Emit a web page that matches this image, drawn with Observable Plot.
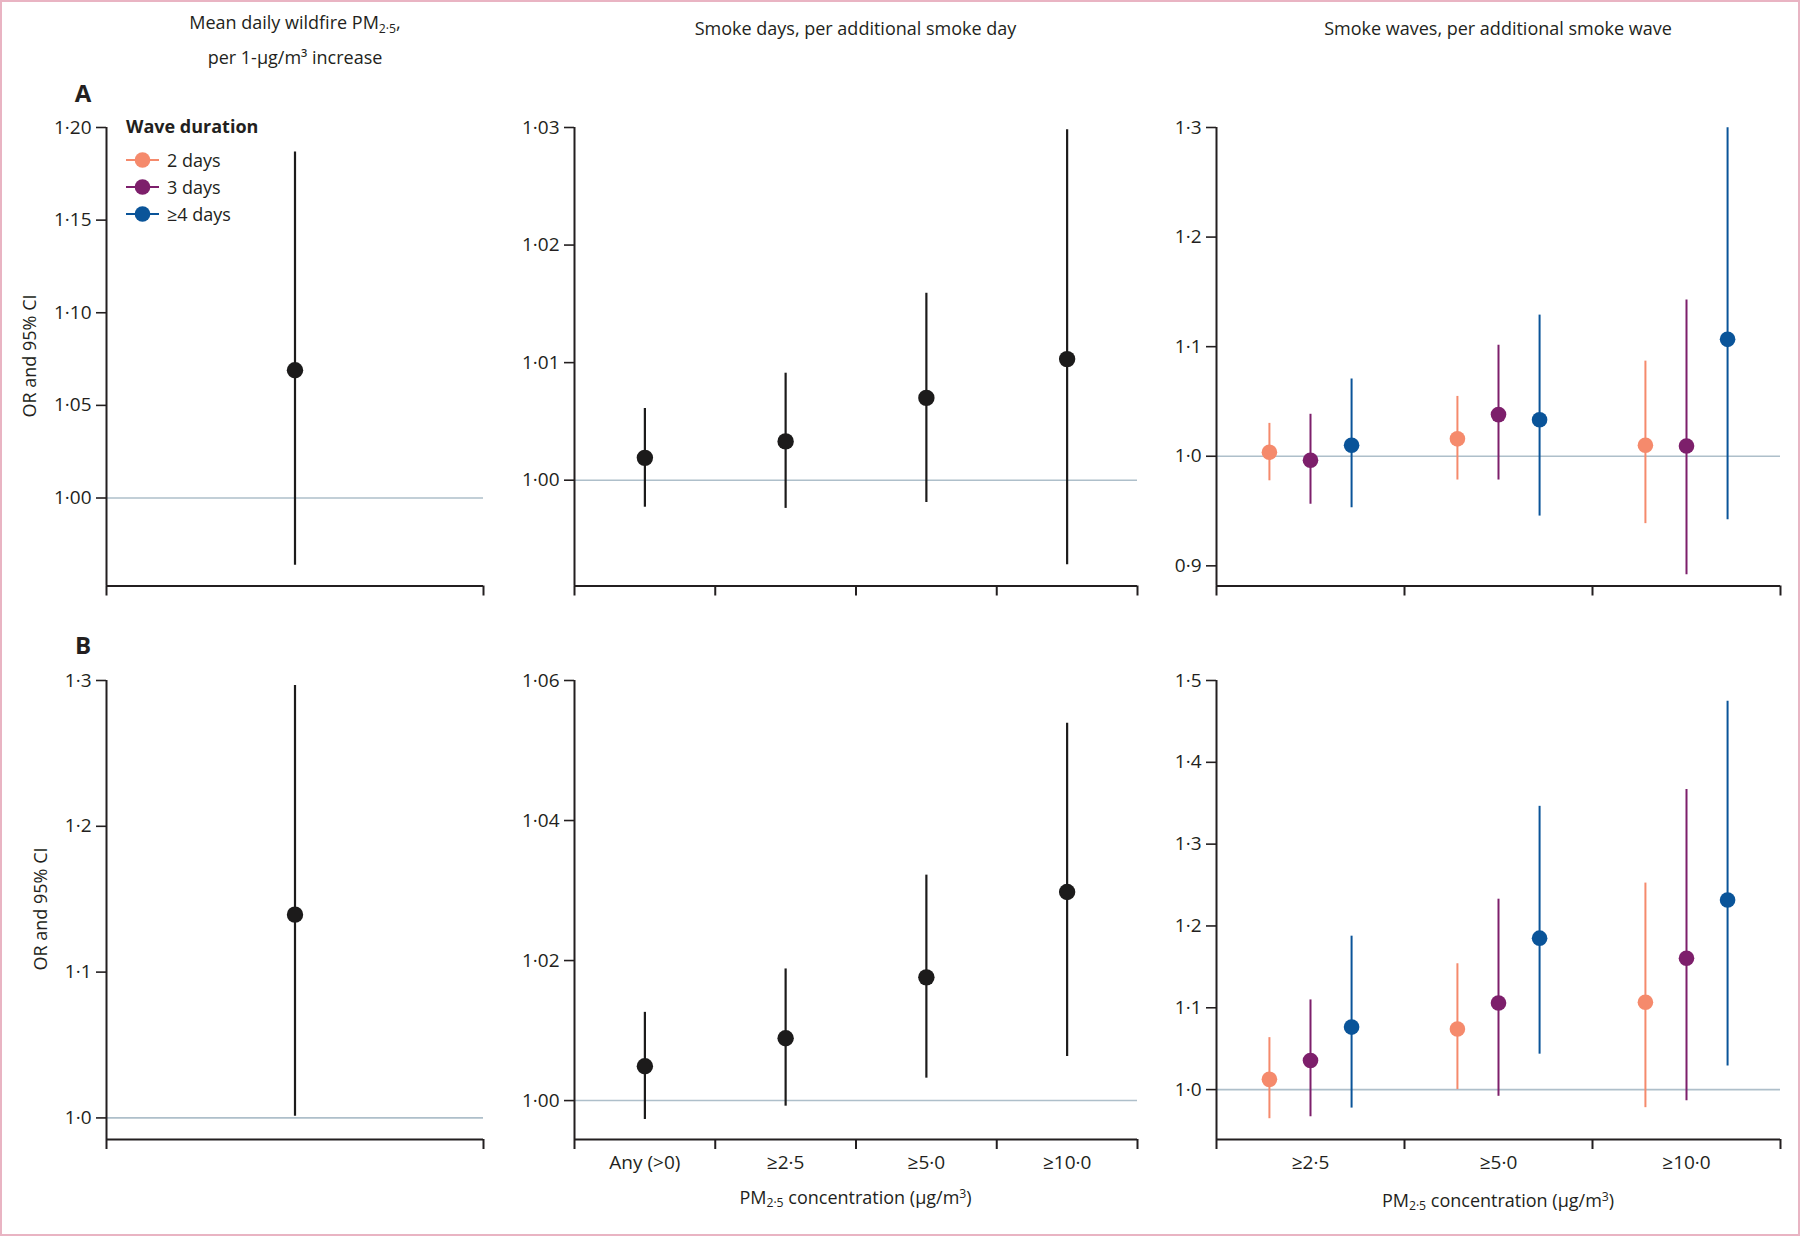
<!DOCTYPE html>
<html><head><meta charset="utf-8">
<script src="https://cdn.jsdelivr.net/npm/d3@7"></script>
<script src="https://cdn.jsdelivr.net/npm/@observablehq/plot@0.6"></script>
<style>
body{margin:0;background:#fff;}
#fig{position:relative;width:1800px;height:1236px;background:#fff;font-family:"Open Sans",sans-serif;color:#231f20;overflow:hidden;}
#border{position:absolute;left:0;top:0;width:1800px;height:1236px;box-sizing:border-box;border:2px solid #e9b4c3;pointer-events:none;}
.abs{position:absolute;white-space:nowrap;}
.c{transform:translate(-50%,-50%);}
.title{font-size:18px;text-align:center;line-height:29px;}
.sub{font-size:0.68em;vertical-align:-0.3em;}
.sup{font-size:0.68em;vertical-align:0.5em;}
.panel-letter{font-size:24px;font-weight:700;}
.ylab{font-size:18px;transform:translate(-50%,-50%) rotate(-90deg);}
.legend{font-size:18px;}
</style></head><body>
<div id="fig"><div id="border"></div></div>
<script>
// ---------------- DATA ----------------
const concLevels = ["Any (>0)", "≥2·5", "≥5·0", "≥10·0"];
const waveConcLevels = ["≥2·5", "≥5·0", "≥10·0"];
const waveDurations = ["2 days", "3 days", "≥4 days"];

// Row A – mean daily wildfire PM2.5 (OR, lower, upper)
const meanA_or = [1.069], meanA_lo = [0.9637], meanA_hi = [1.1868];
// Row A – smoke days
const daysA_or = [1.0019, 1.0033, 1.0070, 1.0103];
const daysA_lo = [0.9977, 0.9976, 0.9981, 0.9928];
const daysA_hi = [1.0061, 1.0091, 1.0159, 1.0298];
// Row A – smoke waves, by duration (2, 3, >=4 days) x concentration
const wavesA_or = [[1.0036, 1.0159, 1.0101], [0.9964, 1.0380, 1.0094], [1.0101, 1.0333, 1.1067]];
const wavesA_lo = [[0.9776, 0.9783, 0.9385], [0.9562, 0.9783, 0.8919], [0.9530, 0.9454, 0.9421]];
const wavesA_hi = [[1.0300, 1.0546, 1.0868], [1.0383, 1.1013, 1.1425], [1.0705, 1.1288, 1.2998]];

// Row B – mean daily wildfire PM2.5
const meanB_or = [1.1394], meanB_lo = [1.0011], meanB_hi = [1.2965];
// Row B – smoke days
const daysB_or = [1.0049, 1.0089, 1.0176, 1.0298];
const daysB_lo = [0.9973, 0.9992, 1.0032, 1.0063];
const daysB_hi = [1.0126, 1.0188, 1.0322, 1.0539];
// Row B – smoke waves
const wavesB_or = [[1.0125, 1.0740, 1.1067], [1.0356, 1.1058, 1.1606], [1.0764, 1.1851, 1.2317]];
const wavesB_lo = [[0.9644, 1.0000, 0.9779], [0.9668, 0.9918, 0.9865], [0.9774, 1.0433, 1.0288]];
const wavesB_hi = [[1.0635, 1.1538, 1.2524], [1.1096, 1.2327, 1.3668], [1.1875, 1.3462, 1.4745]];

// Axis ticks
const ticksA1 = [1.00, 1.05, 1.10, 1.15, 1.20];
const ticksA2 = [1.00, 1.01, 1.02, 1.03];
const ticksA3 = [0.9, 1.0, 1.1, 1.2, 1.3];
const ticksB1 = [1.0, 1.1, 1.2, 1.3];
const ticksB2 = [1.00, 1.02, 1.04, 1.06];
const ticksB3 = [1.0, 1.1, 1.2, 1.3, 1.4, 1.5];

// ---------------- STYLE ----------------
const seriesDomain = ["all", ...waveDurations];
const seriesColors = ["#1c1b1b", "#f58a6c", "#7d1f6b", "#0a5499"];
const inkColor = "#231f20";
const refColor = "#aebfca";

const fig = document.getElementById("fig");

function addText(html, x, y, cls, extra) {
  const d = document.createElement("div");
  d.className = "abs " + cls;
  d.style.left = x + "px";
  d.style.top = y + "px";
  if (extra) Object.assign(d.style, extra);
  d.innerHTML = html;
  fig.appendChild(d);
  return d;
}

function singleRows(or, lo, hi) {
  return or.map((v, i) => ({x: i + 0.5, or: v, lo: lo[i], hi: hi[i], series: "all"}));
}
function waveRows(or, lo, hi) {
  return waveDurations.flatMap((w, s) => waveConcLevels.map((c, i) => ({
    x: i + 0.5 + (s - 1) * 0.2185, or: or[s][i], lo: lo[s][i], hi: hi[s][i], series: w
  })));
}

function panel({xL, xR, yT, yB, domain, ticks, digits, rows, nCat, labels}) {
  const mL = 60, mR = 6, mT = 12, mB = labels ? 50 : 20;
  const colored = rows.some(r => r.series !== "all");
  const fmt = d => d.toFixed(digits).replace(".", "·");
  const marks = [
    Plot.ruleY([1], {stroke: refColor, strokeWidth: 1.6}),
    Plot.ruleX(rows, {x: "x", y1: "lo", y2: "hi", stroke: "series", strokeWidth: colored ? 2 : 2.2}),
    Plot.dot(rows, {x: "x", y: "or", r: colored ? 7.8 : 8.2, fill: "series", stroke: null}),
    Plot.axisY({ticks, tickFormat: fmt, tickSize: 10, tickPadding: 5, label: null, stroke: inkColor, strokeWidth: 1.6, fill: inkColor}),
    Plot.axisX({ticks: d3.range(nCat + 1), tickFormat: () => "", tickSize: 10, label: null, stroke: inkColor, strokeWidth: 2}),
    Plot.ruleX([0], {stroke: inkColor, strokeWidth: 2}),
    Plot.ruleY([domain[0]], {stroke: inkColor, strokeWidth: 2})
  ];
  if (labels) {
    marks.push(Plot.axisX({
      ticks: labels.map((l, i) => i + 0.5),
      tickFormat: d => labels[Math.floor(d)],
      tickSize: 0, tickPadding: 16, label: null, fill: inkColor
    }));
  }
  const chart = Plot.plot({
    width: xR - xL + mL + mR,
    height: yB - yT + mT + mB,
    marginLeft: mL, marginRight: mR, marginTop: mT, marginBottom: mB,
    x: {type: "linear", domain: [0, nCat], axis: null, label: null},
    y: {type: "linear", domain, axis: null, label: null},
    color: {type: "ordinal", domain: seriesDomain, range: seriesColors},
    style: {fontFamily: "'Open Sans', sans-serif", fontSize: "19px", color: inkColor, background: "transparent", overflow: "visible"},
    marks
  });
  const wrap = document.createElement("div");
  wrap.className = "abs";
  wrap.style.left = (xL - mL) + "px";
  wrap.style.top = (yT - mT) + "px";
  wrap.appendChild(chart);
  fig.appendChild(wrap);
}

// Row A
panel({xL: 106, xR: 483, yT: 126.5, yB: 585, domain: [0.9525, 1.20], ticks: ticksA1, digits: 2,
  rows: singleRows(meanA_or, meanA_lo, meanA_hi), nCat: 1});
panel({xL: 574, xR: 1137, yT: 126.5, yB: 585, domain: [0.9910, 1.03], ticks: ticksA2, digits: 2,
  rows: singleRows(daysA_or, daysA_lo, daysA_hi), nCat: concLevels.length});
panel({xL: 1216, xR: 1780, yT: 126.5, yB: 585, domain: [0.8816, 1.3], ticks: ticksA3, digits: 1,
  rows: waveRows(wavesA_or, wavesA_lo, wavesA_hi), nCat: waveConcLevels.length});
// Row B
panel({xL: 106, xR: 483, yT: 680, yB: 1139, domain: [0.9852, 1.3], ticks: ticksB1, digits: 1,
  rows: singleRows(meanB_or, meanB_lo, meanB_hi), nCat: 1});
panel({xL: 574, xR: 1137, yT: 680, yB: 1139, domain: [0.99444, 1.06], ticks: ticksB2, digits: 2,
  rows: singleRows(daysB_or, daysB_lo, daysB_hi), nCat: concLevels.length, labels: concLevels});
panel({xL: 1216, xR: 1780, yT: 680, yB: 1139, domain: [0.939, 1.5], ticks: ticksB3, digits: 1,
  rows: waveRows(wavesB_or, wavesB_lo, wavesB_hi), nCat: waveConcLevels.length, labels: waveConcLevels});

// Titles
addText('Mean daily wildfire PM<span class="sub">2·5</span>,<br>per 1-µg/m³ increase', 295, 40, "c title");
addText('Smoke days, per additional smoke day', 855.5, 28, "c title");
addText('Smoke waves, per additional smoke wave', 1498, 28, "c title");
addText('A', 83, 92, "c panel-letter");
addText('B', 83, 644, "c panel-letter");
addText('OR and 95% CI', 29, 356, "ylab");
addText('OR and 95% CI', 40, 909, "ylab");
addText('PM<span class="sub">2·5</span> concentration (µg/m<span class="sup">3</span>)', 855.5, 1198, "c title");
addText('PM<span class="sub">2·5</span> concentration (µg/m<span class="sup">3</span>)', 1498, 1201, "c title");

// Legend
addText('<b>Wave duration</b>', 126, 126, "legend", {transform: "translateY(-50%)"});
const legY = [160, 187, 213.5];
waveDurations.forEach((w, i) => {
  const col = seriesColors[i + 1];
  addText(`<svg width="34" height="18" style="vertical-align:middle"><line x1="0" x2="33" y1="9" y2="9" stroke="${col}" stroke-width="2"/><circle cx="16.5" cy="9" r="7.8" fill="${col}"/></svg><span style="margin-left:7px;vertical-align:middle">${w}</span>`,
    126, legY[i], "legend", {transform: "translateY(-50%)", display: "flex", alignItems: "center"});
});
</script>
</body></html>
